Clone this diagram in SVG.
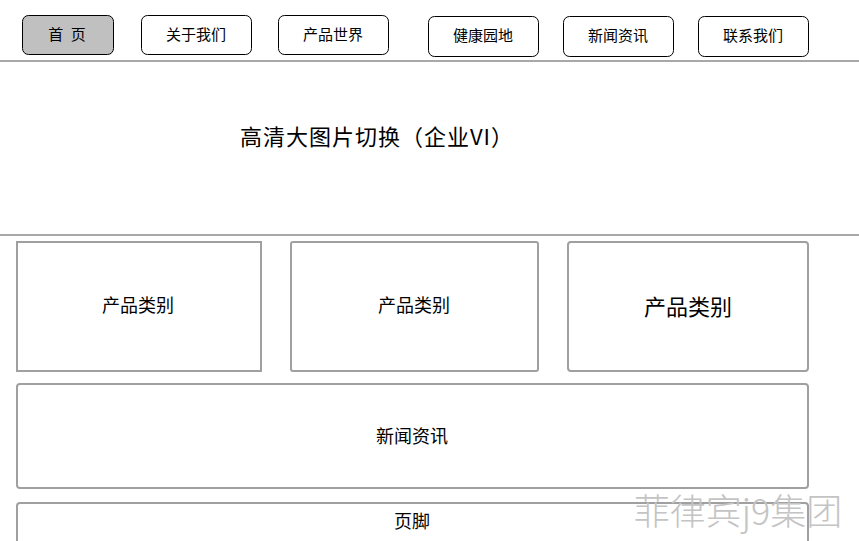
<svg xmlns="http://www.w3.org/2000/svg" width="859" height="541" viewBox="0 0 859 541">
<style>
text{font-family:"Noto Sans CJK SC","Liberation Sans",sans-serif;fill:#000;text-anchor:middle;dominant-baseline:central}
.nav rect{fill:#fff;stroke:#000;stroke-width:1}
.nav text{font-size:15px}
.box{fill:#fff;stroke:#a0a0a0;stroke-width:2}
.sep{stroke:#a8a8a8;stroke-width:2}
</style>
<rect width="859" height="541" fill="#fff"/>
<g id="nav-home" class="nav"><rect x="22.5" y="15.5" width="91" height="39" rx="6" style="fill:#c0c0c0"/><text x="67" y="33" style="letter-spacing:2px" dx="1">首 页</text></g>
<g id="nav-about" class="nav"><rect x="141.5" y="15.5" width="110" height="39" rx="6"/><text x="196" y="33">关于我们</text></g>
<g id="nav-products" class="nav"><rect x="278.5" y="15.5" width="110" height="39" rx="6"/><text x="333" y="33">产品世界</text></g>
<g id="nav-health" class="nav"><rect x="428.5" y="16.5" width="110" height="40" rx="6"/><text x="483" y="34">健康园地</text></g>
<g id="nav-news" class="nav"><rect x="563.5" y="16.5" width="110" height="40" rx="6"/><text x="618" y="34">新闻资讯</text></g>
<g id="nav-contact" class="nav"><rect x="698.5" y="16.5" width="110" height="40" rx="6"/><text x="753" y="34">联系我们</text></g>
<g id="separators"><line class="sep" x1="0" y1="61" x2="859" y2="61"/><line class="sep" x1="0" y1="235" x2="859" y2="235"/></g>
<g id="banner"><text x="377" y="135" style="font-size:22px;letter-spacing:1px">高清大图片切换（企业VI）</text></g>
<g id="cat1"><rect class="box" x="17" y="242" width="244" height="129"/><text x="138" y="304" style="font-size:18px">产品类别</text></g>
<g id="cat2"><rect class="box" x="291" y="242" width="247" height="129" rx="2"/><text x="414" y="304" style="font-size:18px">产品类别</text></g>
<g id="cat3"><rect class="box" x="568" y="242" width="240" height="129" rx="3"/><text x="688" y="305" style="font-size:22px">产品类别</text></g>
<g id="news"><rect class="box" x="17" y="384" width="791" height="104" rx="3"/><text x="412" y="435" style="font-size:18px">新闻资讯</text></g>
<g id="footer"><rect class="box" x="17" y="503" width="791" height="50" rx="3"/><text x="412" y="520" style="font-size:18px">页脚</text></g>
<g id="watermark"><text x="738" y="509" style="font-size:36px;font-weight:300;fill:#c4c4c4">菲律宾j9集团</text></g>
</svg>
